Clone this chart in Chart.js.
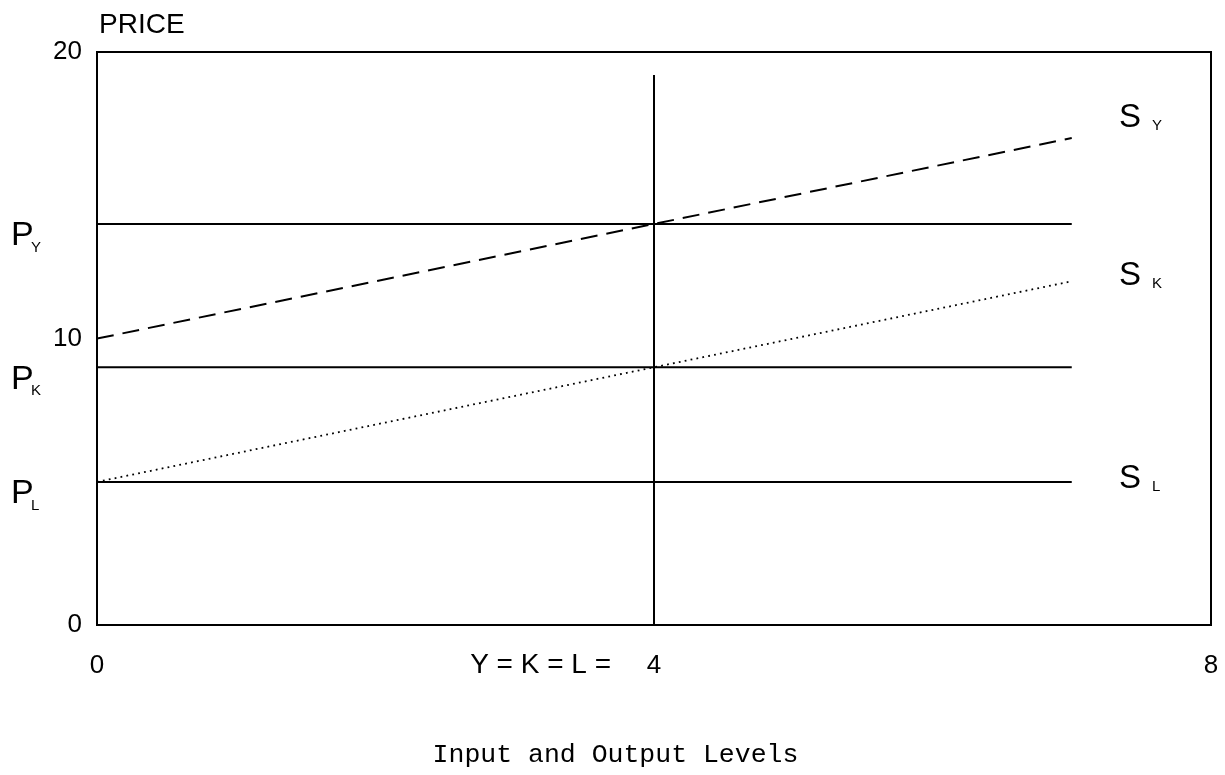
<!DOCTYPE html>
<html>
<head>
<meta charset="utf-8">
<script src="https://cdn.jsdelivr.net/npm/chart.js@4.4.0/dist/chart.umd.min.js"></script>
<style>
  html, body { margin: 0; padding: 0; background: #fff; }
</style>
</head>
<body>
<canvas id="chart" width="1225" height="775"></canvas>
<script>
// input/output levels where the curves are sampled
const levels = [0, 4, 7];
const supplyY = [10, 14, 17];   // dashed S_Y
const supplyK = [5, 9, 12];     // dotted S_K
const priceY = [14, 14, 14];    // P_Y
const priceK = [9, 9, 9];       // P_K
const priceL = [5, 5, 5];       // P_L = S_L
const quantityX = [4, 4];       // Y = K = L = 4
const quantityY = [0, 19.2];
const xTicks = [0, 4, 8];
const yTicks = [0, 10, 20];

// labels next to the price lines and at the end of the supply curves
const priceLabels = [
  { sub: "Y", value: 14 },
  { sub: "K", value: 9 },
  { sub: "L", value: 5 },
];
const supplyLabels = [
  { sub: "Y", value: 17.7 },
  { sub: "K", value: 12.2 },
  { sub: "L", value: 5.1 },
];

const toPoints = (xs, ys) => xs.map((x, i) => ({ x: x, y: ys[i] }));

const FONT = "'Liberation Sans', Arial, sans-serif";

const framePlugin = {
  id: "frame",
  afterDatasetsDraw(chart) {
    const { ctx, chartArea: a } = chart;
    ctx.save();
    ctx.strokeStyle = "#000";
    ctx.lineWidth = 2;
    ctx.beginPath();
    ctx.moveTo(a.left, a.top);
    ctx.lineTo(a.right, a.top);
    ctx.lineTo(a.right, a.bottom);
    ctx.stroke();
    ctx.restore();
  },
};

const textPlugin = {
  id: "texts",
  afterDraw(chart) {
    const { ctx } = chart;
    const x = chart.scales.x;
    const y = chart.scales.y;
    ctx.save();
    ctx.fillStyle = "#000";

    // axis name
    ctx.font = "28px " + FONT;
    ctx.textBaseline = "alphabetic";
    ctx.textAlign = "left";
    ctx.fillText("PRICE", 99, 33);

    // prefix before the "4" tick
    ctx.font = "28px " + FONT;
    ctx.textAlign = "right";
    ctx.textBaseline = "middle";
    ctx.fillText("Y = K = L =", x.getPixelForValue(quantityX[0]) - 43, 665);

    // P labels on the left
    priceLabels.forEach((l) => {
      const py = y.getPixelForValue(l.value) + 12;
      ctx.textAlign = "left";
      ctx.textBaseline = "middle";
      ctx.font = "34px " + FONT;
      ctx.fillText("P", 11, py);
      ctx.font = "15px " + FONT;
      ctx.fillText(l.sub, 31, py + 12);
    });

    // S labels on the right
    supplyLabels.forEach((l) => {
      const py = y.getPixelForValue(l.value);
      ctx.textAlign = "left";
      ctx.textBaseline = "middle";
      ctx.font = "33px " + FONT;
      ctx.fillText("S", 1119, py);
      ctx.font = "15px " + FONT;
      ctx.fillText(l.sub, 1152, py + 8);
    });
    ctx.restore();
  },
};

const lineStyle = {
  showLine: true,
  pointRadius: 0,
  borderColor: "#000",
  borderWidth: 2,
  fill: false,
  tension: 0,
};

new Chart(document.getElementById("chart"), {
  type: "scatter",
  data: {
    datasets: [
      { ...lineStyle, label: "P_Y", data: toPoints(levels, priceY) },
      { ...lineStyle, label: "P_K", data: toPoints(levels, priceK) },
      { ...lineStyle, label: "S_L", data: toPoints(levels, priceL) },
      { ...lineStyle, label: "Q", data: toPoints(quantityX, quantityY) },
      {
        ...lineStyle,
        label: "S_Y",
        data: toPoints(levels, supplyY),
        borderDash: [17, 9],
      },
      {
        ...lineStyle,
        label: "S_K",
        data: toPoints(levels, supplyK),
        borderWidth: 1.8,
        borderDash: [1.8, 4.2],
      },
    ],
  },
  options: {
    responsive: false,
    devicePixelRatio: 1,
    animation: false,
    layout: { padding: { top: 52, right: 14, bottom: 0, left: 20 } },
    plugins: {
      legend: { display: false },
      tooltip: { enabled: false },
      title: {
        display: true,
        position: "bottom",
        text: "Input and Output Levels",
        color: "#000",
        font: { family: "'Liberation Mono', monospace", size: 26.5, weight: "normal" },
        padding: { top: 0, bottom: 4 },
      },
    },
    scales: {
      x: {
        type: "linear",
        min: 0,
        max: 8,
        afterBuildTicks: (scale) => {
          scale.ticks = xTicks.map((v) => ({ value: v }));
        },
        afterFit: (scale) => {
          scale.height = 114;
          scale.paddingLeft = 0;
          scale.paddingRight = 0;
        },
        ticks: {
          color: "#000",
          padding: 25,
          maxRotation: 0,
          font: { family: FONT, size: 26 },
          callback: (v) => String(v),
        },
        grid: { display: false, drawTicks: false },
        border: { display: true, color: "#000", width: 2 },
      },
      y: {
        type: "linear",
        min: 0,
        max: 20,
        afterBuildTicks: (scale) => {
          scale.ticks = yTicks.map((v) => ({ value: v }));
        },
        afterFit: (scale) => {
          scale.width = 77;
        },
        ticks: {
          color: "#000",
          padding: 15,
          font: { family: FONT, size: 26 },
          callback: (v) => String(v),
        },
        grid: { display: false, drawTicks: false },
        border: { display: true, color: "#000", width: 2 },
      },
    },
  },
  plugins: [framePlugin, textPlugin],
});
</script>
</body>
</html>
